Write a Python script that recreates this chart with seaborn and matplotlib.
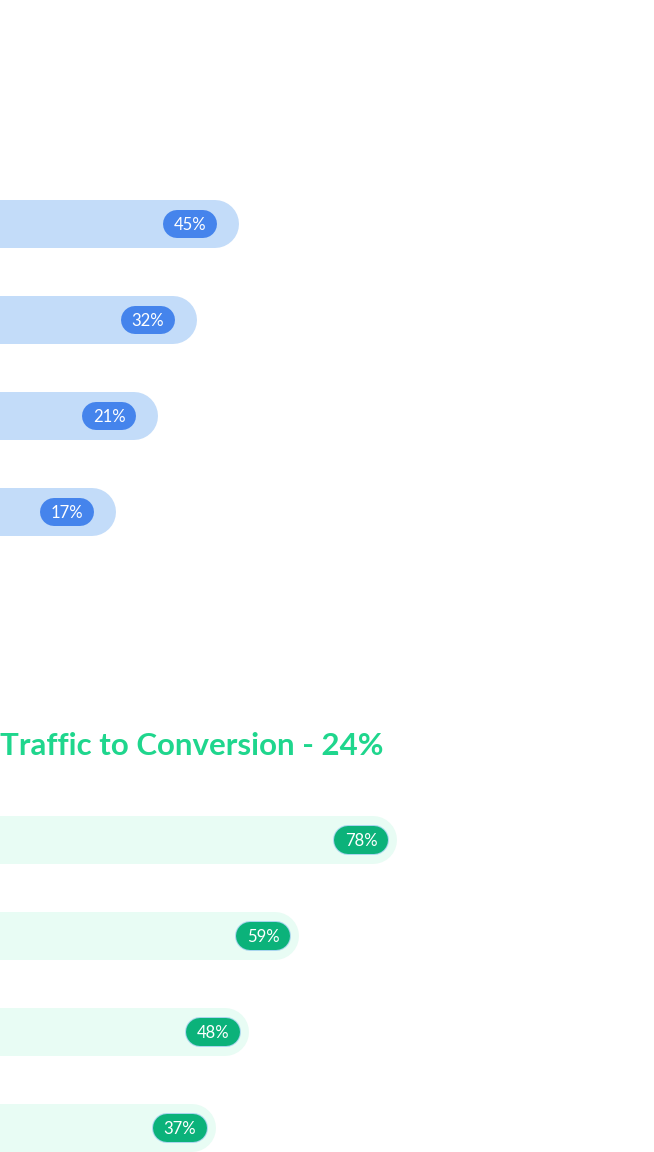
import matplotlib
matplotlib.use("Agg")
import matplotlib.pyplot as plt
import pandas as pd
import seaborn as sns

sns.set_theme(style="white")
plt.rcParams["font.family"] = ["Lato", "DejaVu Sans"]

# funnel data
steps = ["Homepage", "Product Page", "Checkout", "Payment"]
lead_pct = [45, 32, 21, 17]
lead_bar = [239, 197, 158, 116]
conv_pct = [78, 59, 48, 37]
conv_bar = [397, 299, 249, 216]

W, H = 654, 1152
SLOT = 96  # px per category slot
PT = 72 / 100  # points per pixel


def px_axes(fig, top_px, n):
    # axes spanning full width, n slots of SLOT px starting at top_px
    h = n * SLOT
    return fig.add_axes([0, 1 - (top_px + h) / H, 1, h / H])


def draw_funnel(ax, bar_len, pct, bar_color, pill_color, pill_edge, offset):
    df = pd.DataFrame({"step": steps, "len": bar_len})
    sns.barplot(data=df, x="len", y="step", orient="h", width=0.5,
                color=bar_color, ax=ax)
    ax.set_xlim(0, W)
    ax.set_ylim(len(steps) - 0.5, -0.5)
    # swap the flat bars for pill shapes with round caps
    for p in list(ax.patches):
        x0, w = p.get_x(), p.get_width()
        yc = p.get_y() + p.get_height() / 2
        hpx = p.get_height() * SLOT
        p.remove()
        ax.plot([x0 - 40, x0 + w - hpx / 2], [yc, yc], color=bar_color,
                lw=hpx * PT, solid_capstyle="round", zorder=1)
    for i, (L, v) in enumerate(zip(bar_len, pct)):
        cx = L - offset
        if pill_edge != "none":
            ax.plot([cx - 13, cx + 13], [i, i], color=pill_edge,
                    lw=30 * PT, solid_capstyle="round", zorder=2)
        ax.plot([cx - 13, cx + 13], [i, i], color=pill_color,
                lw=28 * PT, solid_capstyle="round", zorder=3)
        ax.text(cx, i + 0.01, f"{v}%", ha="center", va="center",
                color="white", fontsize=12, zorder=4)
        ax.text(650, i, steps[i], ha="right", va="center", color="white",
                fontsize=15)
    ax.set_axis_off()


fig = plt.figure(figsize=(W / 100, H / 100), dpi=100)
fig.patch.set_facecolor("white")

ax1 = px_axes(fig, 176, 4)
draw_funnel(ax1, lead_bar, lead_pct, "#C3DCF9", "#4584EC", "none", 49)

ax2 = px_axes(fig, 792, 4)
draw_funnel(ax2, conv_bar, conv_pct, "#E8FCF4", "#0BB27A", "#A9D6EE", 36)

fig.text(2 / W, 1 - 30 / H, "Metrics", color="white", fontsize=20,
         va="center", ha="left")
fig.text(2 / W, 1 - 80 / H, "4,850 Active Users", color="white", fontsize=20,
         va="center", ha="left")
fig.text(15 / W, 1 - 133 / H, "Traffic to Lead - 45%", color="white",
         fontsize=22.5, fontweight="bold", va="center", ha="left")
fig.text(0, 1 - 746 / H, "Traffic to Conversion - 24%", color="#1FD68D",
         fontsize=22.5, fontweight="bold", va="center", ha="left")

fig.savefig("out.png", dpi=100, facecolor="white")
